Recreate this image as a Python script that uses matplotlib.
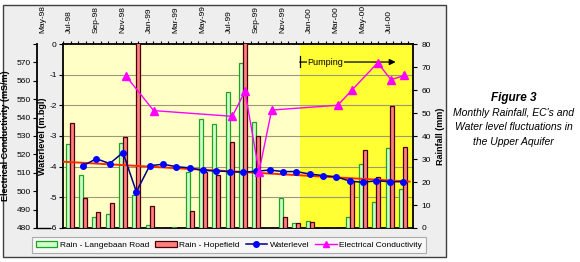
import numpy as np
import matplotlib
matplotlib.use('Agg')
import matplotlib.pyplot as plt
from matplotlib.patches import Patch, Rectangle
from matplotlib.lines import Line2D
import matplotlib.transforms as mtransforms

plt.rcParams['font.family'] = ['Liberation Sans', 'DejaVu Sans']

##################################
# Data
##################################
months = ['Jul-98', 'Aug-98', 'Sep-98', 'Oct-98', 'Nov-98', 'Dec-98', 'Jan-99', 'Feb-99', 'Mar-99',
          'Apr-99', 'May-99', 'Jun-99', 'Jul-99', 'Aug-99', 'Sep-99', 'Oct-99', 'Nov-99', 'Dec-99',
          'Jan-00', 'Feb-00', 'Mar-00', 'Apr-00', 'May-00', 'Jun-00', 'Jul-00', 'Aug-00']
top_labels = ['May-98', 'Jul-98', 'Sep-98', 'Nov-98', 'Jan-99', 'Mar-99', 'May-99',
              'Jul-99', 'Sep-99', 'Nov-99', 'Jan-00', 'Mar-00', 'May-00', 'Jul-00']
top_label_pos = [-2, 0, 2, 4, 6, 8, 10, 12, 14, 16, 18, 20, 22, 24]

rain_langebaan = [36.5, 23.0, 4.9, 6.2, 36.8, 14.2, 1.2, 0, 0.5, 24.5, 47.2, 45.1, 59.1,
                  71.6, 46.2, 0, 13.2, 2.3, 3.0, 0, 0, 4.9, 27.7, 11.3, 34.9, 17.1]
rain_hopefield = [45.5, 13.2, 7.0, 10.7, 39.4, 95.0, 9.7, 0, 0, 7.4, 24.5, 23.0, 37.5,
                  95.0, 40.1, 0, 4.9, 2.3, 2.6, 0, 0, 20.4, 33.9, 22.3, 53.0, 35.1]

wl_month = list(range(1, 26))
waterlevel = [-3.97, -3.74, -3.90, -3.54, -4.82, -3.97, -3.92, -4.00, -4.04, -4.12, -4.14,
              -4.16, -4.18, -4.15, -4.11, -4.16, -4.16, -4.24, -4.29, -4.33, -4.47, -4.51,
              -4.46, -4.49, -4.49]

ec_month = [4.2, 6.3, 12.2, 13.15, 14.2, 15.15, 20.1, 21.15, 23.1, 24.1, 25.1]
ec_values = [562.8, 543.8, 540.7, 554.3, 510.6, 544.1, 546.7, 554.8, 569.8, 560.6, 562.9]

pumping_start = 17.25

##################################
# Figure
##################################
W, H = 580, 262
fig = plt.figure(figsize=(W / 100, H / 100), dpi=100)
fig.patch.set_facecolor('white')

# grey chart box
fig.patches.append(Rectangle((3 / W, 5 / H), 443 / W, 252 / H, transform=fig.transFigure,
                             facecolor='#eeeeee', edgecolor='#404040', lw=1, zorder=-10))

ax = fig.add_axes([63 / W, 34 / H, 350 / W, 184 / H])
ax.set_facecolor('#ffffc6')
x = np.arange(len(months))
ax.set_xlim(-0.5, 25.75)
ax.axvspan(pumping_start, 25.75, color='#ffff33', lw=0, zorder=0)

# waterlevel axis (left)
ax.set_ylim(-6, 0)
ax.set_yticks(range(-6, 1))
ax.set_yticklabels([str(v) for v in range(-6, 1)])
for v in range(-5, 0):
    ax.axhline(v, color='#9a9a7a', lw=0.8, zorder=1)
ax.tick_params(axis='y', labelsize=6, length=3, width=0.8, pad=1.5)
ax.set_ylabel('Waterlevel (m.bgl)', fontsize=6.5, fontweight='bold')
ax.yaxis.set_label_coords(-0.045, 0.5)
for s in ax.spines.values():
    s.set_linewidth(1.3)
    s.set_color('black')

# top date ticks
ax.set_xticks(np.arange(-0.5, 25.8, 0.5625))
ax.tick_params(axis='x', top=True, bottom=False, labeltop=False, labelbottom=False,
               direction='out', length=2.5, width=0.8)
trans = mtransforms.blended_transform_factory(ax.transData, ax.transAxes)
for p, lab in zip(top_label_pos, top_labels):
    ax.text(p, 1.06, lab, rotation=90, ha='center', va='bottom', fontsize=6,
            transform=trans, clip_on=False)

# rainfall bars (right axis)
ax_rain = ax.twinx()
ax_rain.set_ylim(0, 80)
ax_rain.set_yticks(range(0, 81, 10))
ax_rain.bar(x - 0.16, rain_langebaan, width=0.3, color='#ccffcc', edgecolor='#22a022', lw=0.9, zorder=2)
ax_rain.bar(x + 0.16, rain_hopefield, width=0.3, color='#ff8080', edgecolor='#4a0000', lw=0.9, zorder=2)
ax_rain.tick_params(axis='y', labelsize=6, length=3, width=0.8, pad=3)
ax_rain.set_ylabel('Rainfall (mm)', fontsize=6.5, fontweight='bold', rotation=90)
ax_rain.yaxis.set_label_coords(1.065, 0.5)
for s in ax_rain.spines.values():
    s.set_visible(False)

# waterlevel line + trend
ax_wl = ax.twinx()
ax_wl.set_ylim(-6, 0)
ax_wl.axis('off')
coef = np.polyfit(wl_month, waterlevel, 1)
tx = np.array([-0.5, 25.5])
ax_wl.plot(tx, np.polyval(coef, tx), color='#ff2a00', lw=1.4, zorder=3)
ax_wl.plot(wl_month, waterlevel, color='#000080', lw=1.1, marker='o', ms=4,
           mfc='#0000ff', mec='#0000ff', zorder=4)

# pumping annotation
y_ann = 0.902
ax_wl.plot([pumping_start, pumping_start], [0.875, 0.935], color='black', lw=0.9,
           transform=trans, clip_on=False)
ax_wl.annotate('', xy=(24.45, y_ann), xytext=(pumping_start, y_ann),
               xycoords=trans, textcoords=trans,
               arrowprops=dict(arrowstyle='-|>', color='black', lw=0.9, mutation_scale=9,
                               shrinkA=0, shrinkB=0))
ax_wl.text(pumping_start + 0.6, y_ann, 'Pumping', transform=trans, fontsize=6.5,
           ha='left', va='center', zorder=5,
           bbox=dict(boxstyle='square,pad=0.1', facecolor='#ffff33', edgecolor='none'))

# EC (offset left axis)
ax_ec = ax.twinx()
ax_ec.set_ylim(480, 580)
ax_ec.plot(ec_month, ec_values, color='#ff00ff', lw=1.0, marker='^', ms=5.5,
           mfc='#ff00ff', mec='#ff00ff', zorder=5)
for side in ['top', 'bottom', 'right']:
    ax_ec.spines[side].set_visible(False)
ax_ec.spines['left'].set_visible(True)
ax_ec.spines['left'].set_position(('outward', 18.7))
ax_ec.spines['left'].set_linewidth(1.3)
ax_ec.yaxis.set_ticks_position('left')
ax_ec.yaxis.set_label_position('left')
ax_ec.set_yticks(range(480, 581, 10))
ax_ec.set_yticklabels([str(v) if v < 580 else '' for v in range(480, 581, 10)])
ax_ec.tick_params(axis='y', labelsize=6, length=3, width=0.8, pad=1.5)
ax_ec.set_ylabel('Electrical Conductivity (mS/m)', fontsize=6.5, fontweight='bold')
ax_ec.yaxis.set_label_coords(-0.15, 0.5)
fig.add_artist(Line2D([37 / W, 50 / W], [34 / H, 34 / H], color='black', lw=1.0))

# legend
handles = [Patch(facecolor='#ccffcc', edgecolor='#22a022', lw=0.9),
           Patch(facecolor='#ff8080', edgecolor='#4a0000', lw=0.9),
           Line2D([], [], color='#000080', lw=1.1, marker='o', ms=4, mfc='#0000ff', mec='#0000ff'),
           Line2D([], [], color='#ff00ff', lw=1.0, marker='^', ms=4.5, mfc='#ff00ff', mec='#ff00ff')]
labels = ['Rain - Langebaan Road', 'Rain - Hopefield', 'Waterlevel', 'Electrical Conductivity']
leg = fig.legend(handles, labels, loc='center', bbox_to_anchor=(229 / W, 1 - 245 / H), ncol=4,
                 fontsize=6, frameon=True, fancybox=False, handlelength=2.6, handleheight=0.6,
                 handletextpad=0.3, columnspacing=0.7, borderpad=0.5)
leg.get_frame().set_edgecolor('#999999')
leg.get_frame().set_facecolor('#fafafa')
leg.get_frame().set_linewidth(0.8)

# caption
cx = 513.5 / W
fig.text(cx, 1 - 98 / H, 'Figure 3', ha='center', va='center', fontsize=8.5,
         fontweight='bold', style='italic')
for yy, line in [(113, "Monthly Rainfall, EC's and"), (127, 'Water level fluctuations in'),
                 (142, 'the Upper Aquifer')]:
    fig.text(cx, 1 - yy / H, line, ha='center', va='center', fontsize=7.5, style='italic')

fig.savefig('out.png', dpi=100)
